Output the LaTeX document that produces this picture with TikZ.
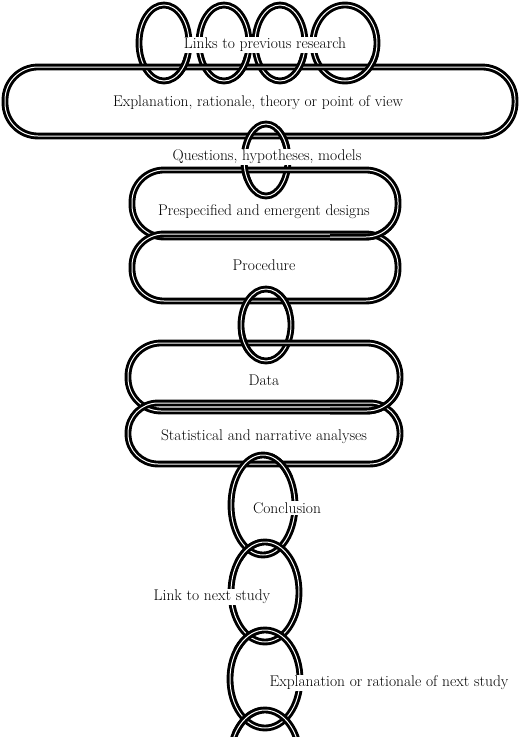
\documentclass[tikz,border=0pt]{standalone}
\begin{document}
\begin{tikzpicture}[x=1pt,y=-1pt,
  lk/.style={draw=black, line width=2.9pt, double=white, double distance=1.0pt},
  lbl/.style={font=\fontsize{15.5}{17}\selectfont, inner sep=1.2pt},
  lblw/.style={lbl, fill=white}]
\clip (0,0) rectangle (521,737);
\fill[white] (0,0) rectangle (521,737);
% ---- top rings
\foreach \cx/\rx in {164/25,224/25,280/25,345/32}{
  \draw[lk] (\cx,43) ellipse [x radius=\rx, y radius=38];
}
% link 1
\draw[lk,rounded corners=33] (5,67) rectangle (515,136);
\foreach \cx/\rx in {164/25,224/25,280/25,345/32}{
  \begin{scope}
    \clip (\cx+8,56) rectangle (\cx+40,78);
    \draw[lk] (\cx,43) ellipse [x radius=\rx, y radius=38];
  \end{scope}
}
% ---- ring 2
\draw[lk] (266,160) ellipse [x radius=22, y radius=36];
% links 3 and 4
\draw[lk,rounded corners=32] (132,170) rectangle (398,237);
\draw[lk,rounded corners=32] (132,234) rectangle (398,301);
\begin{scope}
  \clip (330,222) rectangle (410,250);
  \draw[lk,rounded corners=32] (132,170) rectangle (398,237);
\end{scope}
\begin{scope}
  \clip (274,126) rectangle (296,146);
  \draw[lk] (266,160) ellipse [x radius=22, y radius=36];
\end{scope}
\begin{scope}
  \clip (236,162) rectangle (258,180);
  \draw[lk] (266,160) ellipse [x radius=22, y radius=36];
\end{scope}
% ---- ring 5
\draw[lk] (266,325) ellipse [x radius=25, y radius=36];
% links 6 and 7
\draw[lk,rounded corners=33] (128,343) rectangle (400,411);
\draw[lk,rounded corners=30] (128,403) rectangle (400,464);
\begin{scope}
  \clip (330,394) rectangle (410,420);
  \draw[lk,rounded corners=33] (128,343) rectangle (400,411);
\end{scope}
\begin{scope}
  \clip (274,290) rectangle (300,310);
  \draw[lk] (266,325) ellipse [x radius=25, y radius=36];
\end{scope}
\begin{scope}
  \clip (232,333) rectangle (258,352);
  \draw[lk] (266,325) ellipse [x radius=25, y radius=36];
\end{scope}
% ---- chain rings
\draw[lk] (263,505) ellipse [x radius=32, y radius=50];
\draw[lk] (265,592) ellipse [x radius=34, y radius=50];
\draw[lk] (265,679) ellipse [x radius=35, y radius=49];
\draw[lk] (265,760) ellipse [x radius=35, y radius=50];
\begin{scope}
  \clip (272,452) rectangle (305,476);
  \draw[lk] (263,505) ellipse [x radius=32, y radius=50];
\end{scope}
\begin{scope}
  \clip (225,536) rectangle (262,560);
  \draw[lk] (265,592) ellipse [x radius=34, y radius=50];
\end{scope}
\begin{scope}
  \clip (225,622) rectangle (262,648);
  \draw[lk] (265,679) ellipse [x radius=35, y radius=49];
\end{scope}
\begin{scope}
  \clip (225,703) rectangle (262,732);
  \draw[lk] (265,760) ellipse [x radius=35, y radius=50];
\end{scope}
% ---- labels
\node[lblw] (t1) at (265,45) {Links to previous research};
\node[lbl]  (t2) at (258,103) {Explanation, rationale, theory or point of view};
\node[lblw] (t3) at (267,157) {Questions, hypotheses, models};
\node[lbl]  (t4) at (264,212) {Prespecified and emergent designs};
\node[lbl]  (t5) at (264,265) {Procedure};
\node[lbl]  (t6) at (264,380) {Data};
\node[lbl]  (t7) at (264,437) {Statistical and narrative analyses};
\node[lblw] (t8) at (287,508) {Conclusion};
\node[lblw] (t9) at (212,597) {Link to next study};
\node[lblw] (t10) at (389,683) {Explanation or rationale of next study};
\end{tikzpicture}
\end{document}
